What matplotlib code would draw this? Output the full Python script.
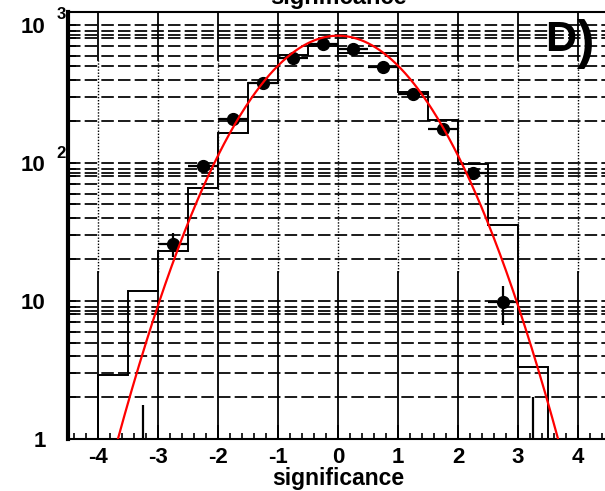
import numpy as np
import matplotlib
matplotlib.use('Agg')
import matplotlib.pyplot as plt
from matplotlib.ticker import MultipleLocator, FixedLocator, NullFormatter
from matplotlib.transforms import blended_transform_factory

# histogram (bin edges and contents)
bin_edges = [-4.5, -4.0, -3.5, -3.0, -2.5, -2.0, -1.5, -1.0, -0.5, 0.0,
             0.5, 1.0, 1.5, 2.0, 2.5, 3.0, 3.5, 4.0, 4.5]
hist_counts = [0, 2.9, 11.8, 23, 66, 165, 380, 605, 700, 625,
               625, 324, 205, 99, 35.5, 3.3, 0, 0]

# data points with errors
point_x = [-3.25, -2.75, -2.25, -1.75, -1.25, -0.75, -0.25, 0.25, 0.75,
           1.25, 1.75, 2.25, 2.75, 3.25]
point_y = [0.5, 26, 95, 208, 380, 575, 730, 671, 497, 318, 176, 84.5, 9.8, 0.5]
point_yerr_lo = [0.45, 5.1, 9.7, 14.4, 19.5, 24, 27, 26, 22, 17.8, 13.3, 9.2, 3.1, 0.45]
point_yerr_hi = [1.25, 5.1, 9.7, 14.4, 19.5, 24, 27, 26, 22, 17.8, 13.3, 9.2, 3.1, 1.5]
point_xerr = 0.25

# gaussian fit parameters
fit_amp = 835.0
fit_mean = 0.0
fit_sigma = 1.0

x_ticks = [-4, -3, -2, -1, 0, 1, 2, 3, 4]

plt.rcParams['font.family'] = ['Liberation Sans', 'DejaVu Sans']
plt.rcParams['font.weight'] = 'bold'
plt.rcParams['lines.scale_dashes'] = False

fig = plt.figure(figsize=(6.05, 4.91), dpi=100)
W, H = 605.0, 491.0
ax = fig.add_axes([68 / W, 52 / H, 540 / W, 427 / H])
ax.set_yscale('log')
ax.set_xlim(-4.5, 4.5)
ax.set_ylim(1, 1240)

# horizontal dashed grid at every minor decade step
for k in range(0, 4):
    for n in [1, 2, 3, 4, 5, 6, 7, 8, 8.5, 9]:
        v = n * 10 ** k
        if 1 < v <= 1240:
            ax.axhline(v, color='#1a1a1a', lw=1.4, linestyle=(0, (9, 3)), zorder=1)

# vertical grid: solid at bottom and top, dotted in between
vtr = blended_transform_factory(ax.transData, ax.transAxes)
for xv in x_ticks:
    ax.plot([xv, xv], [0, 0.391], transform=vtr, color='black', lw=1.3, zorder=1)
    ax.plot([xv, xv], [0.391, 0.888], transform=vtr, color='black', lw=1.0,
            linestyle=(0, (1, 1.2)), zorder=1)
    ax.plot([xv, xv], [0.888, 1], transform=vtr, color='black', lw=1.3, zorder=1)

# histogram
ax.stairs(np.clip(hist_counts, 0.1, None), bin_edges, baseline=None,
          color='black', lw=1.4, zorder=2)

# data points
ax.errorbar(point_x, point_y, yerr=[point_yerr_lo, point_yerr_hi], xerr=point_xerr,
            fmt='o', color='black', ms=8.5, elinewidth=1.6, capsize=0, zorder=3)

# fit curve
xf = np.linspace(-4.5, 4.5, 600)
ax.plot(xf, fit_amp * np.exp(-0.5 * ((xf - fit_mean) / fit_sigma) ** 2),
        color='red', lw=1.6, zorder=4)

# axes styling
ax.spines['left'].set_linewidth(3)
ax.spines['bottom'].set_linewidth(1.5)
ax.spines['top'].set_linewidth(1.5)
ax.spines['right'].set_linewidth(1.5)

ax.set_xticks(x_ticks)
ax.set_xticklabels([str(t) for t in x_ticks])
ax.xaxis.set_minor_locator(MultipleLocator(0.2))
ax.tick_params(axis='x', which='major', direction='in', length=10, width=1.3,
               labelsize=16, pad=6)
ax.tick_params(axis='x', which='minor', direction='in', length=4, width=1.2)

ax.yaxis.set_major_locator(FixedLocator([1, 10, 100, 1000]))
ax.set_yticklabels(['1', '10', '10', '10'])
ax.yaxis.set_minor_formatter(NullFormatter())
ax.tick_params(axis='y', which='both', direction='in', length=6, width=1.2,
               labelsize=16, pad=16)

# superscripts of the decade labels
ytr = blended_transform_factory(ax.transAxes, ax.transData)
ax.text(-0.021, 118, '2', transform=ytr, fontsize=12, ha='left', va='center')
ax.text(-0.021, 1180, '3', transform=ytr, fontsize=12, ha='left', va='center')

ax.set_xlabel('significance', fontsize=16.5, fontweight='bold')
ax.xaxis.set_label_coords(0.5, -0.066)

# cut-off title at the very top
fig.text(338 / W, 1 - 4 / H, 'significance', ha='center', va='baseline', fontsize=17)

# panel tag
fig.text(561 / W, 1 - 40 / H, 'D', ha='center', va='center', fontsize=31,
         fontweight='heavy')
fig.text(586 / W, 1 - 44 / H, ')', ha='center', va='center', fontsize=38,
         fontweight='heavy')

fig.savefig('out.png', dpi=100)
